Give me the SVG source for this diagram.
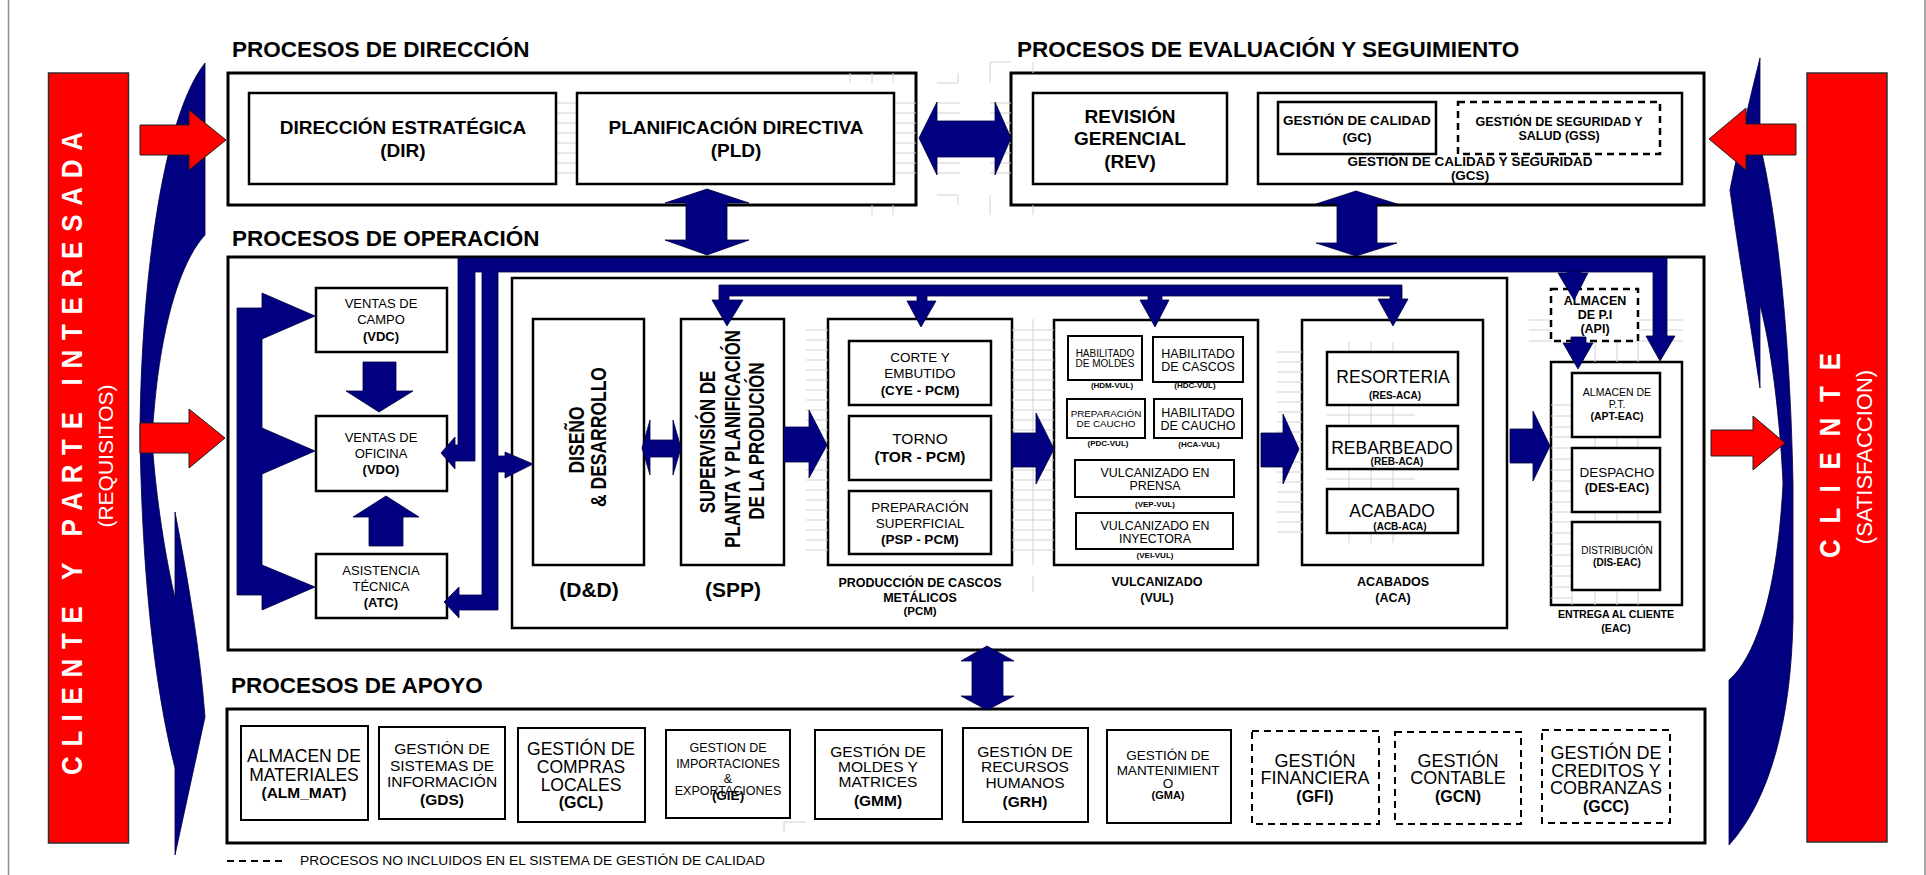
<svg xmlns="http://www.w3.org/2000/svg" width="1926" height="875" viewBox="0 0 1926 875">
<style>
.bg{fill:#fff}
.frame{stroke:#8c8c8c;stroke-width:1.5;fill:none}
.grid{stroke:#d2d2d2;stroke-width:1;fill:none}
.sec{fill:#fff;stroke:#000;stroke-width:3}
.box{fill:#fff;stroke:#000;stroke-width:2.5}
.sm{fill:#fff;stroke:#000;stroke-width:2}
.dash{stroke-dasharray:7 5}
.blue{fill:#000080;stroke:#000040;stroke-width:0.8}
.red{fill:#ff0000;stroke:#202020;stroke-width:1}
.redbar{fill:#ff0000;stroke:#303030;stroke-width:1.5}
text{font-family:"Liberation Sans",Arial,Helvetica,sans-serif;fill:#000}
.m{text-anchor:middle}
.b{font-weight:bold}
.ttl{font-weight:bold;font-size:22.5px}
.w{fill:#fff}
.pre{white-space:pre}
</style>
<rect class="bg" x="0" y="0" width="1926" height="875"/>
<line class="frame" x1="8.5" y1="0" x2="8.5" y2="875"/>
<line class="frame" x1="1925" y1="0" x2="1925" y2="875"/>

<!-- side shapes -->
<g id="crescent-left">
<path class="blue" d="M205,63 L205,235 C180,262 158,330 152,440 C156,500 166,560 175,598 L175,512 C188,580 200,650 205,717 L175,855 L175,768 C158,700 143,600 140,440 C140,300 160,120 205,63 Z"/>
</g>
<g id="crescent-right">
<path class="blue" d="M1760,58 L1760,145 C1776,210 1790,330 1793,483 L1793,620 C1791,720 1770,800 1729,845 L1729,680 C1758,655 1778,585 1783,483 C1780,420 1772,350 1760,305 L1760,388 C1750,320 1738,250 1730,190 C1740,140 1752,90 1760,58 Z"/>
</g>
<g id="cliente-requisitos">
<rect class="redbar" x="48.5" y="73" width="80" height="770"/>
<text class="b w pre" font-size="26" transform="translate(82,775) rotate(-90) scale(1,1.15)" textLength="643" lengthAdjust="spacing">C L I E N T E   Y   P A R T E   I N T E R E S A D A</text>
<text class="m w" font-size="21" transform="translate(113,456) rotate(-90)">(REQUISITOS)</text>
</g>
<g id="cliente-satisfaccion">
<rect class="redbar" x="1807" y="73" width="80" height="769"/>
<text class="b w pre" font-size="26" transform="translate(1840,558) rotate(-90) scale(1,1.15)" textLength="205" lengthAdjust="spacing">C L I E N T E</text>
<text class="m w" font-size="22" transform="translate(1872,457) rotate(-90)">(SATISFACCION)</text>
</g>

<!-- section titles -->
<text class="ttl" x="232" y="57">PROCESOS DE DIRECCIÓN</text>
<text class="ttl" x="1017" y="57">PROCESOS DE EVALUACIÓN Y SEGUIMIENTO</text>
<text class="ttl" x="232" y="246">PROCESOS DE OPERACIÓN</text>
<text class="ttl" x="231" y="693">PROCESOS DE APOYO</text>

<!-- containers -->
<g id="procesos-direccion"><rect class="sec" x="228" y="73" width="688" height="132"/></g>
<g id="procesos-evaluacion"><rect class="sec" x="1011" y="73" width="693" height="132"/></g>
<g id="procesos-operacion"><rect class="sec" x="228" y="257" width="1476" height="393"/></g>
<g id="produccion"><rect class="box" x="512" y="278" width="995" height="350"/></g>
<g id="pcm">
<rect class="box" x="828" y="319" width="184" height="246"/>
<text class="m b" font-size="12.5" x="920" y="587">PRODUCCIÓN DE CASCOS</text>
<text class="m b" font-size="12.5" x="920" y="602">METÁLICOS</text>
<text class="m b" font-size="11.5" x="920" y="615">(PCM)</text>
</g>
<g id="vul">
<rect class="box" x="1054" y="320" width="204" height="245"/>
<text class="m b" font-size="12.5" x="1157" y="586">VULCANIZADO</text>
<text class="m b" font-size="12.5" x="1157" y="602">(VUL)</text>
</g>
<g id="aca">
<rect class="box" x="1302" y="320" width="181" height="245"/>
<text class="m b" font-size="12.5" x="1393" y="586">ACABADOS</text>
<text class="m b" font-size="12.5" x="1393" y="602">(ACA)</text>
</g>
<g id="eac">
<rect class="box" x="1551" y="362" width="131" height="243"/>
<text class="m b" font-size="10.6" x="1616" y="618">ENTREGA AL CLIENTE</text>
<text class="m b" font-size="10.6" x="1616" y="632">(EAC)</text>
</g>
<g id="procesos-apoyo"><rect class="sec" x="227" y="709" width="1478" height="134"/></g>

<!-- faint background grid -->
<path class="grid" d="M557,103H577M557,113H577M557,123H577M557,133H577M557,143H577M557,153H577M557,163H577M557,173H577
M894,103H916M894,113H916M894,123H916M894,133H916M894,143H916M894,153H916M894,163H916M894,173H916
M937,103H960M937,113H960M937,123H960M937,133H960M937,143H960M937,153H960M937,163H960M937,173H960
M990,103H1011M990,113H1011M990,123H1011M990,133H1011M990,143H1011M990,153H1011M990,163H1011M990,173H1011
M850,73V83M872,73V83M893,73V83M872,205V215M893,205V215M958,73V83M937,83H958M990,62V83M990,62H1011M937,195H958M958,195V205M990,195V215M1033,62V73M1033,205V215
M806,330H828M806,340H828M806,350H828M806,360H828M806,370H828M806,380H828M806,390H828M806,400H828M806,410H828M806,420H828M806,430H828M806,440H828M806,450H828M806,460H828M806,470H828M806,480H828M806,490H828M806,500H828M806,510H828M806,520H828M806,530H828M806,540H828M806,550H828
M1012,330H1054M1012,340H1054M1012,350H1054M1012,360H1054M1012,370H1054M1012,380H1054M1012,390H1054M1012,400H1054M1012,410H1054M1012,420H1054M1012,430H1054M1012,440H1054M1012,450H1054M1012,460H1054M1012,470H1054M1012,480H1054M1012,490H1054M1012,500H1054M1012,510H1054M1012,520H1054M1012,530H1054M1012,540H1054M1012,550H1054M1033,319V565M1033,576V592
M1277,352H1302M1277,362H1302M1277,372H1302M1277,382H1302M1277,392H1302M1277,402H1302M1277,412H1302M1277,422H1302M1277,432H1302M1277,442H1302M1277,452H1302M1277,462H1302M1277,472H1302M1277,482H1302M1277,492H1302M1277,502H1302M1277,512H1302M1277,522H1302M1277,532H1302
M1349,342V352M1371,342V352M1393,342V352M1349,405V426M1371,405V426M1393,405V426M1327,415H1415M1349,469V489M1371,469V489M1393,469V489M1327,479H1415M1349,533V543M1371,533V543M1393,533V543
M1529,320H1683M1529,330H1683M1529,341H1683M1595,341V362M1617,341V362M1638,341V362
M1551,405H1572M1551,416H1572M1551,427H1572M1551,437H1572M1551,448H1572M1551,459H1572M1551,470H1572M1551,481H1572M1551,491H1572M1551,502H1572M1551,512H1572M1551,522H1572M1551,533H1572M1551,544H1572M1551,555H1572M1551,566H1572M1551,576H1572M1551,587H1572M1551,598H1572
M1595,437V448M1617,437V448M1638,437V448M1595,512V522M1617,512V522M1638,512V522M1572,590V605M1595,590V605M1617,590V605M1638,590V605
M784,822H806M784,822V832"/>

<!-- Direccion nodes -->
<g id="dir">
<rect class="box" x="249" y="93" width="307" height="91"/>
<text class="m b" font-size="19" x="403" y="134">DIRECCIÓN ESTRATÉGICA</text>
<text class="m b" font-size="19" x="403" y="157">(DIR)</text>
</g>
<g id="pld">
<rect class="box" x="577" y="93" width="317" height="91"/>
<text class="m b" font-size="19" x="736" y="134">PLANIFICACIÓN DIRECTIVA</text>
<text class="m b" font-size="19" x="736" y="157">(PLD)</text>
</g>

<!-- Evaluacion nodes -->
<g id="rev">
<rect class="box" x="1033" y="93" width="194" height="91"/>
<text class="m b" font-size="19" x="1130" y="123">REVISIÓN</text>
<text class="m b" font-size="19" x="1130" y="145">GERENCIAL</text>
<text class="m b" font-size="19" x="1130" y="168">(REV)</text>
</g>
<g id="gcs">
<rect class="box" x="1258" y="93" width="424" height="91"/>
<text class="m b" font-size="13.5" x="1470" y="166">GESTIÓN DE CALIDAD Y SEGURIDAD</text>
<text class="m b" font-size="13.5" x="1470" y="180">(GCS)</text>
</g>
<g id="gc">
<rect class="box" x="1278" y="102" width="158" height="52"/>
<text class="m b" font-size="13.5" x="1357" y="125">GESTIÓN DE CALIDAD</text>
<text class="m b" font-size="13.5" x="1357" y="142">(GC)</text>
</g>
<g id="gss">
<rect class="box dash" x="1458" y="102" width="202" height="52"/>
<text class="m b" font-size="12.5" x="1559" y="126">GESTIÓN DE SEGURIDAD Y</text>
<text class="m b" font-size="12.5" x="1559" y="140">SALUD (GSS)</text>
</g>

<!-- Operacion nodes -->
<g id="vdc">
<rect class="box" x="316" y="288" width="131" height="64"/>
<text class="m" font-size="13" x="381" y="308">VENTAS DE</text>
<text class="m" font-size="13" x="381" y="324">CAMPO</text>
<text class="m b" font-size="13" x="381" y="341">(VDC)</text>
</g>
<g id="vdo">
<rect class="box" x="316" y="416" width="131" height="75"/>
<text class="m" font-size="13" x="381" y="442">VENTAS DE</text>
<text class="m" font-size="13" x="381" y="458">OFICINA</text>
<text class="m b" font-size="13" x="381" y="474">(VDO)</text>
</g>
<g id="atc">
<rect class="box" x="316" y="554" width="131" height="64"/>
<text class="m" font-size="13" x="381" y="575">ASISTENCIA</text>
<text class="m" font-size="13" x="381" y="591">TÉCNICA</text>
<text class="m b" font-size="13" x="381" y="607">(ATC)</text>
</g>
<g id="dd">
<rect class="box" x="533" y="319" width="111" height="246"/>
<text class="m b" font-size="17.5" transform="translate(584,440) rotate(-90) scale(1,1.25)">DISEÑO</text>
<text class="m b" font-size="17.5" transform="translate(606,437) rotate(-90) scale(1,1.25)">&amp; DESARROLLO</text>
<text class="m b" font-size="21" x="589" y="597">(D&amp;D)</text>
</g>
<g id="spp">
<rect class="box" x="681" y="319" width="103" height="246"/>
<text class="m b" font-size="16.8" transform="translate(715,442) rotate(-90) scale(1,1.3)">SUPERVISIÓN DE</text>
<text class="m b" font-size="16.8" transform="translate(740,439) rotate(-90) scale(1,1.3)">PLANTA Y PLANIFICACIÓN</text>
<text class="m b" font-size="16.8" transform="translate(764,441) rotate(-90) scale(1,1.3)">DE LA PRODUCIÓN</text>
<text class="m b" font-size="21" x="733" y="597">(SPP)</text>
</g>
<g id="cye">
<rect class="box" x="849" y="341" width="142" height="64"/>
<text class="m" font-size="13.5" x="920" y="362">CORTE Y</text>
<text class="m" font-size="13.5" x="920" y="378">EMBUTIDO</text>
<text class="m b" font-size="13.5" x="920" y="395">(CYE - PCM)</text>
</g>
<g id="tor">
<rect class="box" x="849" y="416" width="142" height="64"/>
<text class="m" font-size="15.5" x="920" y="444">TORNO</text>
<text class="m b" font-size="15.5" x="920" y="462">(TOR - PCM)</text>
</g>
<g id="psp">
<rect class="box" x="849" y="491" width="142" height="63"/>
<text class="m" font-size="13.5" x="920" y="512">PREPARACIÓN</text>
<text class="m" font-size="13.5" x="920" y="528">SUPERFICIAL</text>
<text class="m b" font-size="13.5" x="920" y="544">(PSP - PCM)</text>
</g>
<g id="hdm">
<rect class="sm" x="1068" y="336" width="74" height="44"/>
<text class="m" font-size="10" x="1105" y="357">HABILITADO</text>
<text class="m" font-size="10" x="1105" y="367">DE MOLDES</text>
<text class="m b" font-size="8" x="1112" y="388">(HDM-VUL)</text>
</g>
<g id="hdc">
<rect class="sm" x="1153" y="337" width="90" height="45"/>
<text class="m" font-size="12.5" x="1198" y="358">HABILITADO</text>
<text class="m" font-size="12.5" x="1198" y="371">DE CASCOS</text>
<text class="m b" font-size="8" x="1195" y="388">(HDC-VUL)</text>
</g>
<g id="pdc">
<rect class="sm" x="1067" y="399" width="78" height="39"/>
<text class="m" font-size="9.8" x="1106" y="417">PREPARACIÓN</text>
<text class="m" font-size="9.8" x="1106" y="427">DE CAUCHO</text>
<text class="m b" font-size="8" x="1108" y="446">(PDC-VUL)</text>
</g>
<g id="hca">
<rect class="sm" x="1154" y="399" width="88" height="39"/>
<text class="m" font-size="12.5" x="1198" y="417">HABILITADO</text>
<text class="m" font-size="12.5" x="1198" y="430">DE CAUCHO</text>
<text class="m b" font-size="8" x="1199" y="447">(HCA-VUL)</text>
</g>
<g id="vep">
<rect class="sm" x="1075" y="460" width="159" height="37"/>
<text class="m" font-size="12.4" x="1155" y="477">VULCANIZADO EN</text>
<text class="m" font-size="12.4" x="1155" y="490">PRENSA</text>
<text class="m b" font-size="8" x="1155" y="507">(VEP-VUL)</text>
</g>
<g id="vei">
<rect class="sm" x="1076" y="513" width="157" height="36"/>
<text class="m" font-size="12.4" x="1155" y="530">VULCANIZADO EN</text>
<text class="m" font-size="12.4" x="1155" y="543">INYECTORA</text>
<text class="m b" font-size="8" x="1155" y="558">(VEI-VUL)</text>
</g>
<g id="res">
<rect class="box" x="1327" y="352" width="131" height="53"/>
<text class="m" font-size="17.5" x="1393" y="383">RESORTERIA</text>
<text class="m b" font-size="10" x="1395" y="399">(RES-ACA)</text>
</g>
<g id="reb">
<rect class="box" x="1327" y="426" width="131" height="43"/>
<text class="m" font-size="17.5" x="1392" y="454">REBARBEADO</text>
<text class="m b" font-size="10" x="1397" y="465">(REB-ACA)</text>
</g>
<g id="acb">
<rect class="box" x="1327" y="489" width="131" height="44"/>
<text class="m" font-size="17.5" x="1392" y="517">ACABADO</text>
<text class="m b" font-size="10" x="1400" y="530">(ACB-ACA)</text>
</g>
<g id="api">
<rect class="box dash" x="1551" y="289" width="87" height="52"/>
<text class="m b" font-size="12.5" x="1595" y="305">ALMACEN</text>
<text class="m b" font-size="12.5" x="1595" y="319">DE P.I</text>
<text class="m b" font-size="12.5" x="1595" y="333">(API)</text>
</g>
<g id="apt">
<rect class="box" x="1572" y="373" width="88" height="64"/>
<text class="m" font-size="10.5" x="1617" y="396">ALMACEN DE</text>
<text class="m" font-size="10.5" x="1617" y="408">P.T.</text>
<text class="m b" font-size="10.5" x="1617" y="420">(APT-EAC)</text>
</g>
<g id="des">
<rect class="box" x="1572" y="448" width="88" height="64"/>
<text class="m" font-size="13.5" x="1617" y="477">DESPACHO</text>
<text class="m b" font-size="12.5" x="1617" y="492">(DES-EAC)</text>
</g>
<g id="dis">
<rect class="box" x="1572" y="522" width="88" height="68"/>
<text class="m" font-size="10" x="1617" y="554">DISTRIBUCIÓN</text>
<text class="m b" font-size="10" x="1617" y="566">(DIS-EAC)</text>
</g>

<!-- Apoyo nodes -->
<g id="alm">
<rect class="sm" x="241" y="726" width="127" height="94"/>
<text class="m" font-size="17.5" x="304" y="762">ALMACEN DE</text>
<text class="m" font-size="17.5" x="304" y="781">MATERIALES</text>
<text class="m b" font-size="15.5" x="304" y="798">(ALM_MAT)</text>
</g>
<g id="gds">
<rect class="sm" x="379" y="727" width="126" height="92"/>
<text class="m" font-size="15.5" x="442" y="754">GESTIÓN DE</text>
<text class="m" font-size="15.5" x="442" y="771">SISTEMAS DE</text>
<text class="m" font-size="15.5" x="442" y="787">INFORMACIÓN</text>
<text class="m b" font-size="15.5" x="442" y="805">(GDS)</text>
</g>
<g id="gcl">
<rect class="sm" x="518" y="728" width="127" height="94"/>
<text class="m" font-size="17.5" x="581" y="755">GESTIÓN DE</text>
<text class="m" font-size="17.5" x="581" y="773">COMPRAS</text>
<text class="m" font-size="17.5" x="581" y="791">LOCALES</text>
<text class="m b" font-size="16" x="581" y="808">(GCL)</text>
</g>
<g id="gie">
<rect class="sm" x="666" y="730" width="124" height="88"/>
<text class="m" font-size="12.5" x="728" y="752">GESTION DE</text>
<text class="m" font-size="12.5" x="728" y="768">IMPORTACIONES</text>
<text class="m" font-size="12.5" x="728" y="783">&amp;</text>
<text class="m" font-size="12.5" x="728" y="795">EXPORTACIONES</text>
<text class="m b" font-size="13.5" x="728" y="800">(GIE)</text>
</g>
<g id="gmm">
<rect class="sm" x="815" y="730" width="127" height="89"/>
<text class="m" font-size="15.5" x="878" y="757">GESTIÓN DE</text>
<text class="m" font-size="15.5" x="878" y="772">MOLDES Y</text>
<text class="m" font-size="15.5" x="878" y="787">MATRICES</text>
<text class="m b" font-size="15.5" x="878" y="806">(GMM)</text>
</g>
<g id="grh">
<rect class="sm" x="963" y="728" width="125" height="94"/>
<text class="m" font-size="15.5" x="1025" y="757">GESTIÓN DE</text>
<text class="m" font-size="15.5" x="1025" y="772">RECURSOS</text>
<text class="m" font-size="15.5" x="1025" y="788">HUMANOS</text>
<text class="m b" font-size="15.5" x="1025" y="807">(GRH)</text>
</g>
<g id="gma">
<rect class="sm" x="1107" y="730" width="124" height="93"/>
<text class="m" font-size="13.5" x="1168" y="760">GESTIÓN DE</text>
<text class="m" font-size="13.5" x="1168" y="775">MANTENIMIENT</text>
<text class="m" font-size="13.5" x="1168" y="788">O</text>
<text class="m b" font-size="11" x="1168" y="799">(GMA)</text>
</g>
<g id="gfi">
<rect class="sm dash" x="1252" y="731" width="127" height="93"/>
<text class="m" font-size="18" x="1315" y="767">GESTIÓN</text>
<text class="m" font-size="18" x="1315" y="784">FINANCIERA</text>
<text class="m b" font-size="16" x="1315" y="802">(GFI)</text>
</g>
<g id="gcn">
<rect class="sm dash" x="1395" y="732" width="126" height="92"/>
<text class="m" font-size="18" x="1458" y="767">GESTIÓN</text>
<text class="m" font-size="18" x="1458" y="784">CONTABLE</text>
<text class="m b" font-size="16" x="1458" y="802">(GCN)</text>
</g>
<g id="gcc">
<rect class="sm dash" x="1542" y="730" width="128" height="93"/>
<text class="m" font-size="18" x="1606" y="759">GESTIÓN DE</text>
<text class="m" font-size="18" x="1606" y="777">CREDITOS Y</text>
<text class="m" font-size="18" x="1606" y="794">COBRANZAS</text>
<text class="m b" font-size="16" x="1606" y="812">(GCC)</text>
</g>

<g id="legend">
<line x1="227" y1="861" x2="283" y2="861" stroke="#000" stroke-width="2" stroke-dasharray="7 5"/>
<text font-size="12.5" x="300" y="865" textLength="465" lengthAdjust="spacingAndGlyphs">PROCESOS NO  INCLUIDOS EN EL SISTEMA DE GESTIÓN DE CALIDAD</text>
</g>

<!-- connectors -->
<g id="connectors">
<path class="blue" d="M458,258 L1667,258 L1667,336 L1675,336 L1660,361 L1646,336 L1653,336 L1653,272 L498,272 L498,456 L505,456 L505,452 L533,464 L505,478 L505,472 L498,472 L498,610 L459,610 L459,618 L444,602 L459,587 L459,595 L482,595 L482,272 L475,272 L475,461 L455,461 L455,469 L441,453 L455,437 L455,445 L458,445 Z"/>
<path class="blue" d="M1567,271 L1581,271 L1581,273 L1588,273 L1574,300 L1558,273 L1567,273 Z"/>
<path class="blue" d="M719,285 L1402,285 L1402,299 L1408,299 L1393,326 L1378,299 L1390,299 L1390,296 L1162,296 L1162,300 L1169,300 L1155,327 L1140,300 L1148,300 L1148,296 L927,296 L927,301 L936,301 L921,327 L907,301 L917,301 L917,296 L729,296 L729,300 L743,300 L727,326 L712,300 L719,300 Z"/>
<path class="blue" d="M237,308 L262,308 L262,293 L315,316 L262,339 L262,428 L315,451 L262,474 L262,565 L315,587 L262,610 L262,595 L237,595 Z"/>
<path class="blue" d="M363,362 L396,362 L396,391 L413,391 L379,412 L346,391 L363,391 Z"/>
<path class="blue" d="M386,496 L419,517 L403,517 L403,546 L369,546 L369,517 L353,517 Z"/>
<path class="blue" d="M642,448 L650,420 L650,440 L673,440 L673,420 L681,448 L673,475 L673,457 L650,457 L650,475 Z"/>
<path class="blue" d="M784,427 L809,427 L809,410 L827,445 L809,478 L809,462 L784,462 Z"/>
<path class="blue" d="M1012,433 L1036,433 L1036,413 L1054,449 L1036,484 L1036,467 L1012,467 Z"/>
<path class="blue" d="M1261,433 L1283,433 L1283,414 L1299,449 L1283,484 L1283,467 L1261,467 Z"/>
<path class="blue" d="M1510,429 L1533,429 L1533,411 L1550,446 L1533,481 L1533,463 L1510,463 Z"/>
<path class="blue" d="M1571,337 L1586,337 L1586,343 L1593,343 L1578,369 L1563,343 L1571,343 Z"/>
<path class="blue" d="M919,138 L937,102 L937,121 L995,121 L995,102 L1011,138 L995,175 L995,157 L937,157 L937,175 Z"/>
<path class="blue" d="M707,189 L749,203 L727,203 L727,240 L749,240 L707,255 L665,240 L686,240 L686,203 L665,203 Z"/>
<path class="blue" d="M1356,191 L1397,204 L1377,204 L1377,243 L1397,243 L1356,256 L1316,243 L1337,243 L1337,204 L1316,204 Z"/>
<path class="blue" d="M987,646 L1014,661 L1003,661 L1003,696 L1014,696 L987,710 L961,696 L972,696 L972,661 L961,661 Z"/>
<path class="red" d="M140,125 L189,125 L189,110 L226,140 L189,170 L189,155 L140,155 Z"/>
<path class="red" d="M140,423 L189,423 L189,409 L225,438 L189,468 L189,453 L140,453 Z"/>
<path class="red" d="M1796,124 L1746,124 L1746,108 L1709,139 L1746,170 L1746,155 L1796,155 Z"/>
<path class="red" d="M1711,430 L1753,430 L1753,416 L1785,443 L1753,470 L1753,456 L1711,456 Z"/>
</g>
</svg>
